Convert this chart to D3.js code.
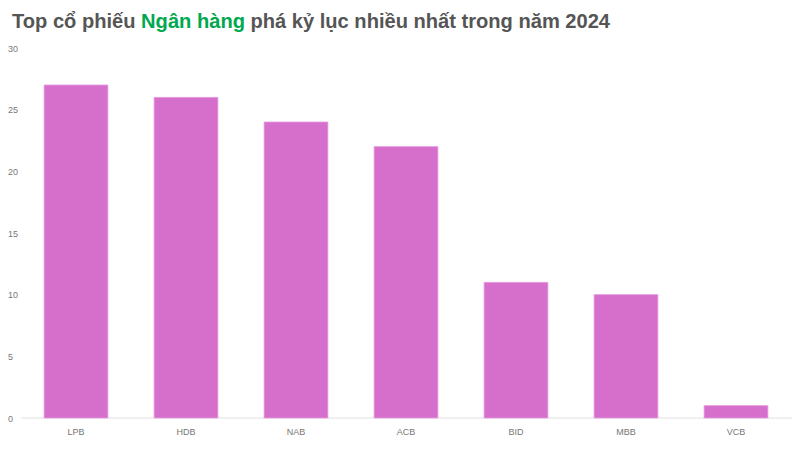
<!DOCTYPE html>
<html>
<head>
<meta charset="utf-8">
<script src="https://cdn.jsdelivr.net/npm/d3@7/dist/d3.min.js"></script>
<style>
html,body{margin:0;padding:0;background:#fff;}
svg{display:block;}
</style>
</head>
<body>
<svg id="chart" width="800" height="450"></svg>
<script>
const categories = ["LPB","HDB","NAB","ACB","BID","MBB","VCB"];
const values = [27, 26, 24, 22, 11, 10, 1];
const yTicks = [0, 5, 10, 15, 20, 25, 30];

const svg = d3.select("#chart");
const font = "'Liberation Sans', Arial, Helvetica, sans-serif";

// Title
const title = svg.append("text")
  .attr("x", 12).attr("y", 28)
  .attr("font-family", font)
  .attr("font-size", 20.1)
  .attr("font-weight", "bold")
  .attr("fill", "#555555");
title.append("tspan").text("Top cổ phiếu ");
title.append("tspan").attr("fill", "#00a84f").text("Ngân hàng");
title.append("tspan").text(" phá kỷ lục nhiều nhất trong năm 2024");

const x = d3.scaleBand().domain(categories).range([21, 791]).paddingInner(0.42).paddingOuter(0.21);
const y = d3.scaleLinear().domain([0, 30]).range([418, 48]);

// baseline
svg.append("line")
  .attr("x1", 21).attr("x2", 792)
  .attr("y1", y(0)).attr("y2", y(0))
  .attr("stroke", "#e0e0e0").attr("stroke-width", 1);

// y tick labels
svg.append("g").selectAll("text").data(yTicks).join("text")
  .attr("x", 8).attr("y", d => y(d) + 3.5)
  .attr("font-family", font)
  .attr("font-size", 9)
  .attr("fill", "#777")
  .text(d => d);

// bars
svg.append("g").selectAll("rect").data(values).join("rect")
  .attr("x", (d, i) => x(categories[i]))
  .attr("y", d => y(d))
  .attr("width", x.bandwidth())
  .attr("height", d => y(0) - y(d))
  .attr("fill", "#d66fcb")
  .attr("stroke", "#e69be0")
  .attr("stroke-width", 0.8);

// x labels
svg.append("g").selectAll("text").data(categories).join("text")
  .attr("x", d => x(d) + x.bandwidth() / 2)
  .attr("y", 435)
  .attr("text-anchor", "middle")
  .attr("font-family", font)
  .attr("font-size", 9)
  .attr("fill", "#777")
  .text(d => d);
</script>
</body>
</html>
